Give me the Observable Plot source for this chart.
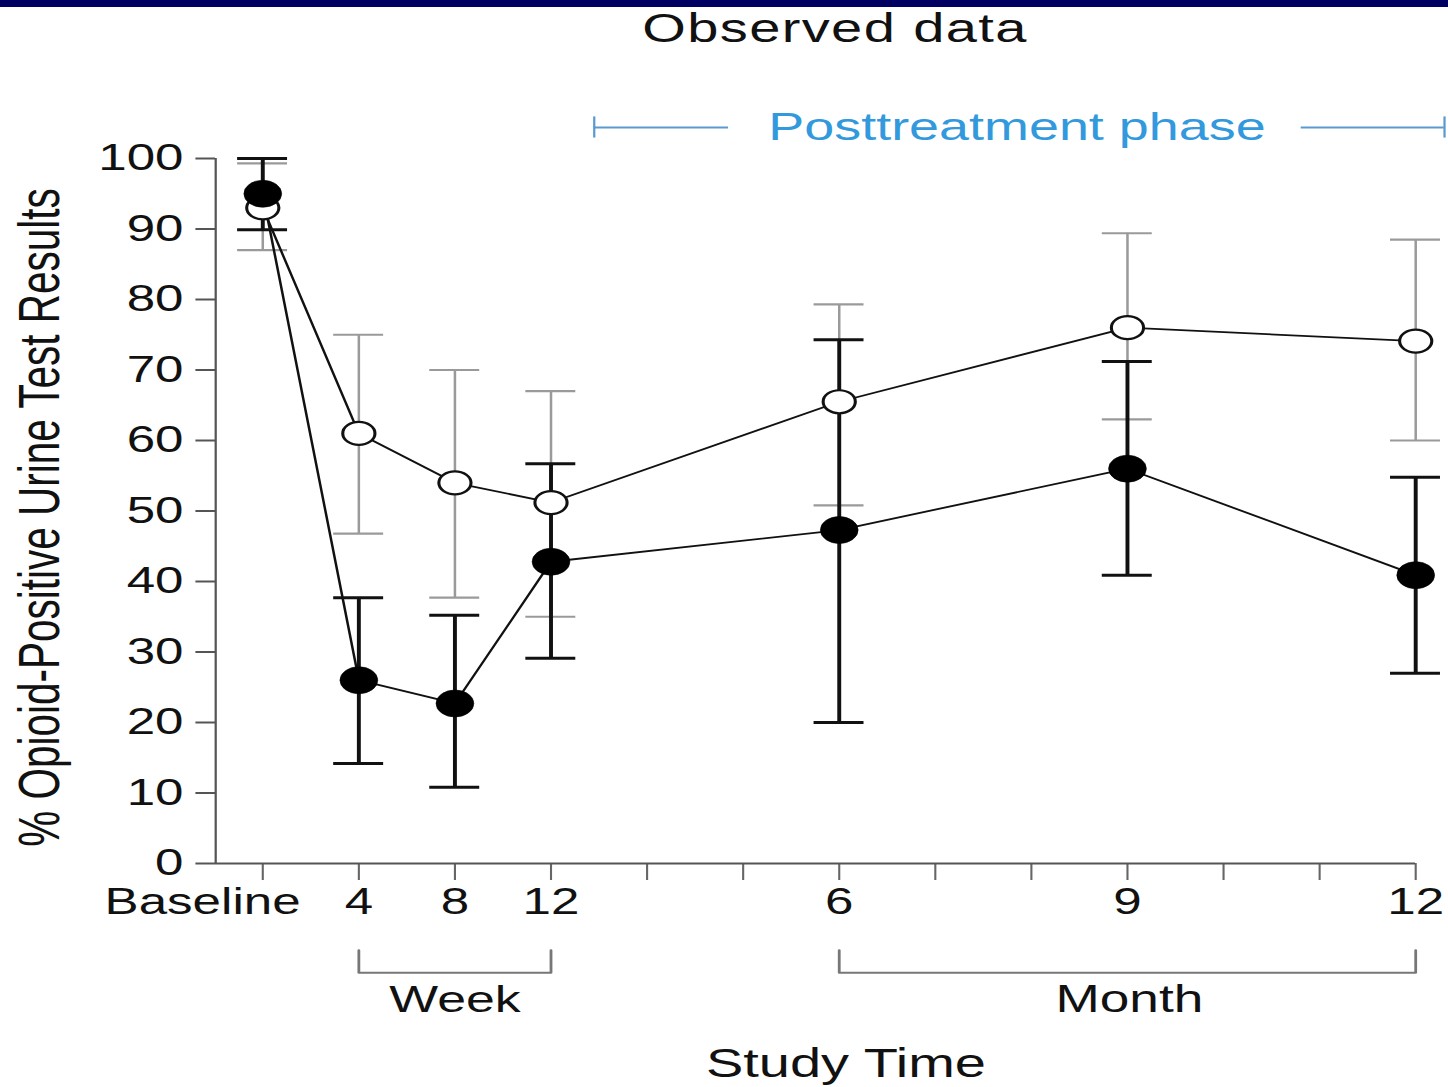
<!DOCTYPE html>
<html>
<head>
<meta charset="utf-8">
<script src="https://cdn.jsdelivr.net/npm/d3@7"></script>
<script src="https://cdn.jsdelivr.net/npm/@observablehq/plot@0.6"></script>
<style>
  html, body { margin: 0; padding: 0; background: #fff; width: 1448px; height: 1087px; overflow: hidden; }
  #bar { position: absolute; left: 0; top: 0; width: 1448px; height: 7px; background: #000062; }
  #title { position: absolute; left: 835px; top: 8px; font-family: "Liberation Sans", Arial, sans-serif;
           font-size: 40px; line-height: 40px; letter-spacing: 1px; color: #111; white-space: nowrap;
           transform: translate(-50%, 0) scaleX(1.4); transform-origin: 50% 50%; }
  #chart { position: absolute; left: 0; top: 50px; }
</style>
</head>
<body>
<div id="bar"></div>
<div id="title">Observed data</div>
<div id="chart"></div>
<script>
// ---- data (x position in months from baseline; weeks 4/8/12 = months 1/2/3) ----
const timePos   = [0, 1, 2, 3, 6, 9, 12];
const timeLabel = ["Baseline", "4", "8", "12", "6", "9", "12"];
const tickPos   = [0, 1, 2, 3, 4, 5, 6, 7, 8, 9, 10, 11, 12];

// open circles
const openMean = [93.0, 61.0, 54.0, 51.2, 65.5, 76.0, 74.1];
const openLo   = [87.0, 46.8, 37.7, 35.0, 50.8, 63.0, 60.0];
const openHi   = [99.3, 75.0, 70.0, 67.0, 79.3, 89.4, 88.5];

// filled circles
const fillMean = [95.0, 26.0, 22.7, 42.8, 47.3, 56.0, 40.9];
const fillLo   = [89.9, 14.2, 10.8, 29.1, 20.0, 40.9, 27.0];
const fillHi   = [100.0, 37.7, 35.2, 56.7, 74.3, 71.2, 54.8];

const yTicks = [0, 10, 20, 30, 40, 50, 60, 70, 80, 90, 100];

const weekSpan  = [1, 3];
const monthSpan = [6, 12];
const postSpan  = [3.45, 12.3];
const postGap   = [4.85, 10.81];

// ---- build tables ----
const openData = timePos.map((x, i) => ({x, y: openMean[i], lo: openLo[i], hi: openHi[i]}));
const fillData = timePos.map((x, i) => ({x, y: fillMean[i], lo: fillLo[i], hi: fillHi[i]}));
const labelMap = new Map(timePos.map((x, i) => [x, timeLabel[i]]));

const S = 1.4;            // horizontal stretch of the original figure
const W = 1448 / S;
const H = 1037;
const CAP = 0.26;
const FONT = '"Liberation Sans", Arial, sans-serif';

function bracket(span, yTop, yBot) {
  return [{x: span[0], y: yTop}, {x: span[0], y: yBot}, {x: span[1], y: yBot}, {x: span[1], y: yTop}];
}

const svg = Plot.plot({
  width: W,
  height: H,
  marginLeft: 215 / S,
  marginRight: W - 1415 / S,
  marginTop: 108,
  marginBottom: 224,
  x: {domain: [-0.49, 12], axis: null},
  y: {domain: [0, 100], axis: null},
  style: {fontFamily: FONT, fontSize: "36.5px", color: "#111", background: "transparent", overflow: "visible"},
  marks: [
    // axes
    Plot.axisY({ticks: yTicks, tickSize: 14, tickPadding: 9, fontSize: 36.5, stroke: "#555", strokeWidth: 2, label: null}),
    Plot.axisX({ticks: tickPos, tickSize: 17, tickPadding: 8, fontSize: 36.5, stroke: "#666", strokeWidth: 1.5,
                tickFormat: d => (d === 0 ? "" : labelMap.get(d) ?? ""), label: null}),
    Plot.axisX([timePos[0]], {tickSize: 0, tickPadding: 25, dx: -43, fontSize: 36.5,
                tickFormat: d => labelMap.get(d), label: null}),
    Plot.ruleY([0], {stroke: "#555", strokeWidth: 2}),
    Plot.ruleX([-0.49], {y1: 0, y2: 100, stroke: "#555", strokeWidth: 1.6}),

    // y label
    Plot.text(["% Opioid-Positive Urine Test Results"], {frameAnchor: "left", rotate: -90, dx: -124.6, dy: 6.5,
      fontSize: 40.5, fill: "#111", textAnchor: "middle", lineAnchor: "middle"}),

    // week / month brackets and labels
    Plot.line(bracket(weekSpan, -12.3, -15.5), {x: "x", y: "y", stroke: "#777", strokeWidth: 2}),
    Plot.line(bracket(monthSpan, -12.3, -15.5), {x: "x", y: "y", stroke: "#777", strokeWidth: 2}),
    Plot.text(["Week"], {x: (weekSpan[0] + weekSpan[1]) / 2, y: -19.4, fontSize: 37, fill: "#111", lineAnchor: "middle"}),
    Plot.text(["Month"], {x: (monthSpan[0] + monthSpan[1]) / 2 + 0.02, y: -19.4, fontSize: 38, fill: "#111", lineAnchor: "middle"}),
    Plot.text(["Study Time"], {x: 6.07, y: -28.4, fontSize: 40, fill: "#111", lineAnchor: "middle"}),

    // posttreatment phase annotation
    Plot.ruleY([104.4], {x1: postSpan[0], x2: postGap[0], stroke: "#5a9ad0", strokeWidth: 2}),
    Plot.ruleY([104.4], {x1: postGap[1], x2: postSpan[1], stroke: "#5a9ad0", strokeWidth: 2}),
    Plot.ruleX([postSpan[0], postSpan[1]], {y1: 102.9, y2: 105.9, stroke: "#5a9ad0", strokeWidth: 1.6}),
    Plot.text(["Posttreatment phase"], {x: (postGap[0] + postGap[1]) / 2 + 0.02, y: 104.4, fontSize: 38.5,
      fill: "#3399dd", lineAnchor: "middle"}),

    // open series error bars (gray)
    Plot.ruleX(openData, {x: "x", y1: "lo", y2: "hi", stroke: "#9a9a9a", strokeWidth: 1.8}),
    Plot.ruleY(openData, {y: "hi", x1: d => d.x - CAP, x2: d => d.x + CAP, stroke: "#9a9a9a", strokeWidth: 2.2}),
    Plot.ruleY(openData, {y: "lo", x1: d => d.x - CAP, x2: d => d.x + CAP, stroke: "#9a9a9a", strokeWidth: 2.2}),

    // filled series error bars (black)
    Plot.ruleX(fillData, {x: "x", y1: "lo", y2: "hi", stroke: "#111", strokeWidth: 2.8}),
    Plot.ruleY(fillData, {y: "hi", x1: d => d.x - CAP, x2: d => d.x + CAP, stroke: "#111", strokeWidth: 3}),
    Plot.ruleY(fillData, {y: "lo", x1: d => d.x - CAP, x2: d => d.x + CAP, stroke: "#111", strokeWidth: 3}),

    // connecting lines
    Plot.line(openData, {x: "x", y: "y", stroke: "#111", strokeWidth: 1.8}),
    Plot.line(fillData, {x: "x", y: "y", stroke: "#111", strokeWidth: 1.8}),

    // points
    Plot.dot(openData, {x: "x", y: "y", r: 11.5, fill: "white", stroke: "#111", strokeWidth: 2.2}),
    Plot.dot(fillData, {x: "x", y: "y", r: 13.5, fill: "#000", stroke: "#000", strokeWidth: 0.5})
  ]
});

svg.setAttribute("width", 1448);
svg.setAttribute("height", H);
svg.setAttribute("viewBox", `0 0 ${W} ${H}`);
svg.setAttribute("preserveAspectRatio", "none");
svg.style.width = "1448px";
svg.style.height = H + "px";
svg.style.maxWidth = "none";
document.getElementById("chart").appendChild(svg);
</script>
</body>
</html>
